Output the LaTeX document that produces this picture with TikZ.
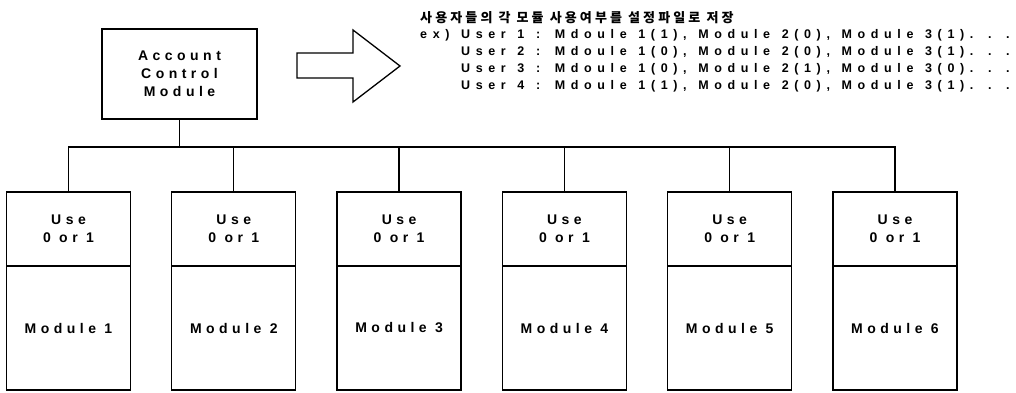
\documentclass[tikz,border=0pt]{standalone}
\usepackage{fontspec}
\newfontfamily\boxfont[LetterSpace=32]{Liberation Sans}
\newfontfamily\notefont[LetterSpace=45, WordSpace=1.28]{Liberation Sans}
\newfontfamily\korfont[LetterSpace=24]{Noto Sans CJK KR}
\tikzset{
  box/.style={draw, line width=1.3pt, inner sep=0pt, align=center,
    font=\boxfont\bfseries\fontsize{14}{18}\selectfont},
  conn/.style={line width=1.3pt},
  note/.style={inner sep=0pt, anchor=base west,
    font=\notefont\bfseries\fontsize{12.5}{15}\selectfont},
  kor/.style={inner sep=0pt, anchor=base west,
    font=\korfont\bfseries\fontsize{13}{16}\selectfont}
}
\begin{document}
\begin{tikzpicture}[x=1pt,y=-1pt]
\useasboundingbox (0,0) rectangle (1016,393);
\node[box, minimum width=155pt, minimum height=90pt] (acm) at (179.5,74) {Account\\Control\\Module};
\foreach \i in {1,...,6} {
  \pgfmathsetmacro\cx{68.5+(\i-1)*165.3}
  \node[box, minimum width=124pt, minimum height=74pt] (u\i) at (\cx,229) {Use\\0 or 1};
  \node[box, minimum width=124pt, minimum height=124pt] (m\i) at (\cx,328) {Module \i};
}
\coordinate (bus) at (0,147);
\draw[conn] (acm.south) -- (acm.south |- bus);
\draw[conn] (u1.north) -- (u1.north |- bus) -- (u6.north |- bus) -- (u6.north);
\foreach \i in {2,...,5} { \draw[conn] (u\i.north) -- (u\i.north |- bus); }
\draw[conn, line join=miter] (297,53) -- (353,53) -- (353,30) -- (400,66) -- (353,102) -- (353,78) -- (297,78) -- cycle;
\node[kor] (t0) at (420,23) {사용자들의 각 모듈 사용여부를 설정파일로 저장};
\node[note] (t1) at (420,38.5) {ex) User 1 : Mdoule 1(1), Module 2(0), Module 3(1). . .};
\node[note] (t2) at (420,56) {\phantom{ex) }User 2 : Mdoule 1(0), Module 2(0), Module 3(1). . .};
\node[note] (t3) at (420,73) {\phantom{ex) }User 3 : Mdoule 1(0), Module 2(1), Module 3(0). . .};
\node[note] (t4) at (420,90) {\phantom{ex) }User 4 : Mdoule 1(1), Module 2(0), Module 3(1). . .};
\end{tikzpicture}
\end{document}
